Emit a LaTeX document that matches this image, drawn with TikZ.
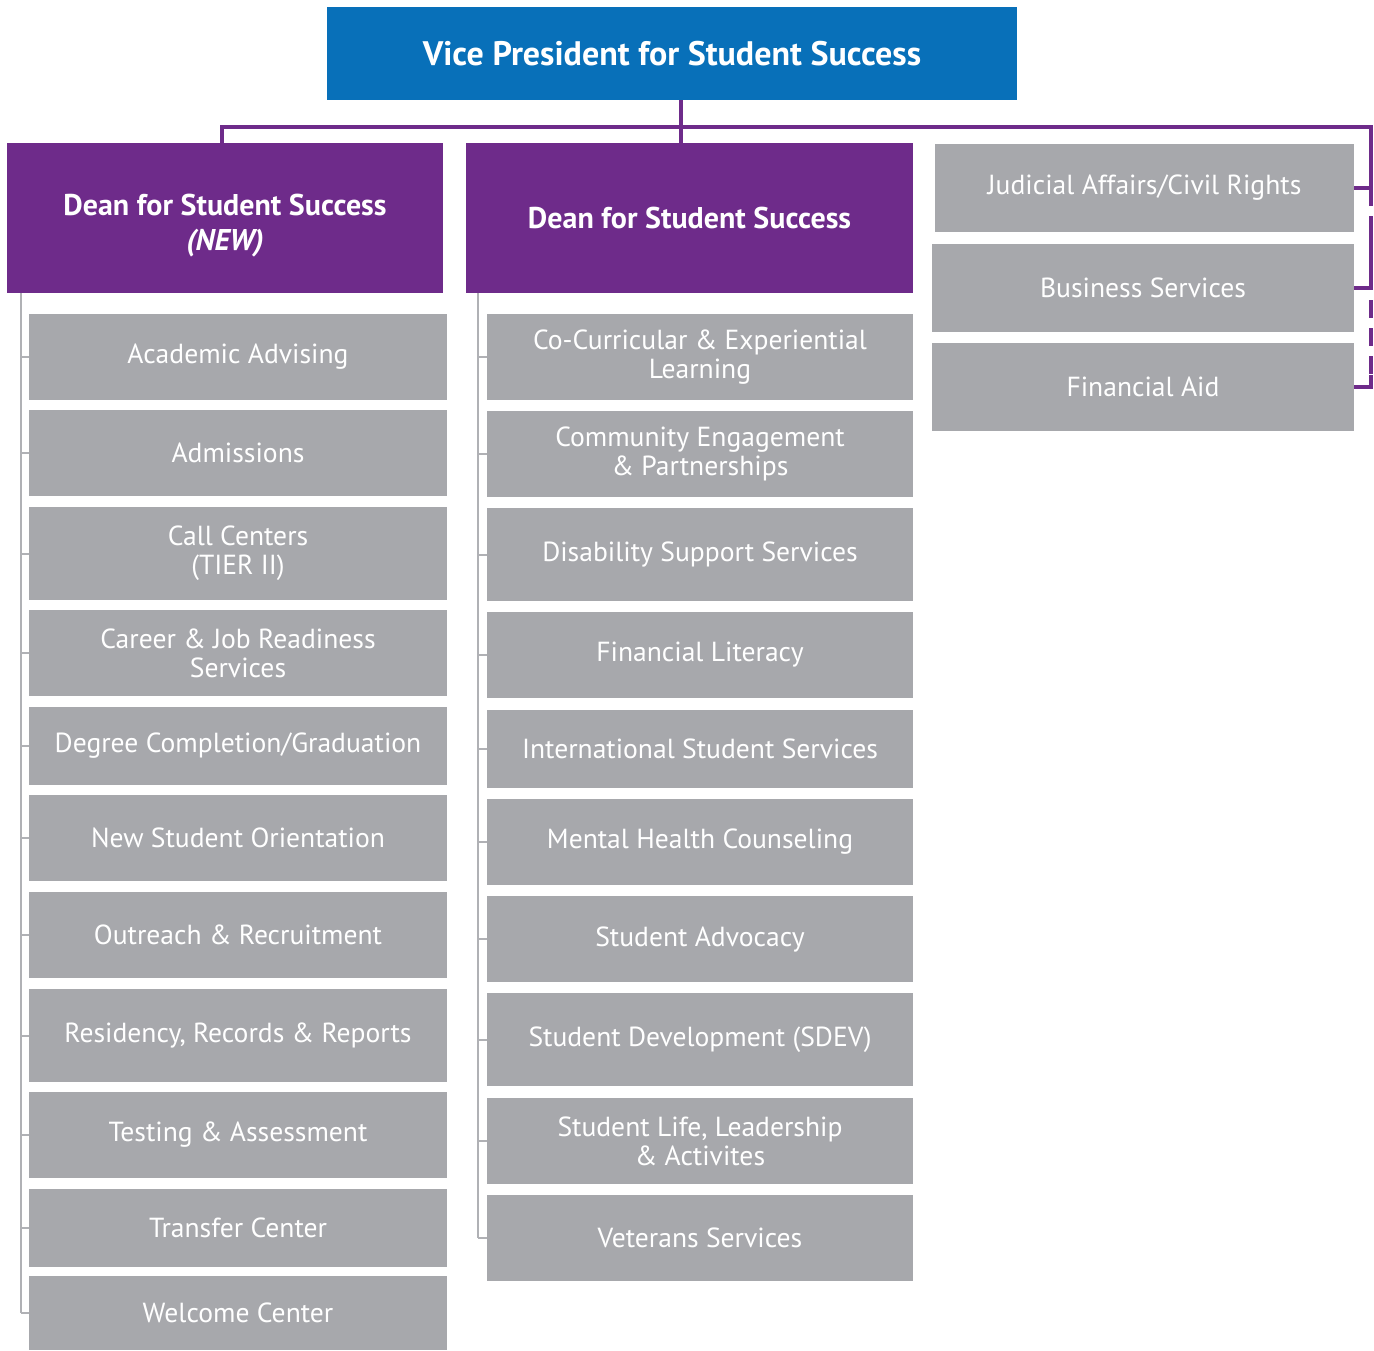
\documentclass[tikz,border=0pt]{standalone}
\usepackage{fontspec}
\setmainfont{PT Sans}
\usetikzlibrary{calc}

\definecolor{vpblue}{HTML}{0870B9}
\definecolor{deanpurple}{HTML}{6E2B8A}
\definecolor{unitgray}{HTML}{A7A8AC}
\definecolor{spinegray}{HTML}{B0B1B5}

\begin{document}
\begin{tikzpicture}[x=0.5pt,y=-0.5pt,
    head/.style={fill=vpblue,text=white,inner sep=0pt,align=center,font=\bfseries\fontsize{17}{20}\selectfont},
    dean/.style={fill=deanpurple,text=white,inner sep=0pt,align=center,font=\bfseries\fontsize{15}{17.5}\selectfont},
    unit/.style={fill=unitgray,text=white,inner sep=0pt,align=center,font=\fontsize{13.8}{14.5}\selectfont},
    link/.style={deanpurple,line width=2.2pt},
    spine/.style={spinegray,line width=1pt}]
    \useasboundingbox (0,0) rectangle (1374,1350);

    % Top of the chart
    \node[head,minimum width=345pt,minimum height=46.5pt] (vp) at (672,53.5) {Vice President for Student Success};

    % Deans
    \node[dean,minimum width=218pt,minimum height=75pt] (dean1) at (225,218) {\rule{0pt}{18pt}Dean for Student Success\\\textit{(NEW)}};
    \node[dean,minimum width=223.5pt,minimum height=75pt] (dean2) at (689.5,218) {Dean for Student Success};

    % Units reporting straight to the VP
    \node[unit,minimum width=209.5pt,minimum height=44pt] (jud) at (1144.5,188) {Judicial Affairs/Civil Rights};
    \node[unit,minimum width=211pt,minimum height=44pt] (bus) at (1143,288) {Business Services};
    \node[unit,minimum width=211pt,minimum height=44pt] (fin) at (1143,387) {Financial Aid};

    % Purple links
    \coordinate (hub) at (681,127);
    \coordinate (lcorner) at (222,127);
    \coordinate (rcorner) at (1371,127);
    \draw[link] (vp.south -| hub) -- (dean2.north -| hub);
    \draw[link] (dean1.north -| lcorner) -- (lcorner) -- (rcorner) |- (jud.east);
    \draw[link,dash pattern=on 9pt off 5pt] (jud.east -| rcorner) -- (fin.east -| rcorner);
    \draw[link] (bus.east) -- (bus.east -| rcorner) -- ++(0,-60);
    \draw[link] (fin.east) -| ($(fin.east -| rcorner)+(0,-12)$);

    % Left column
    \coordinate (lspine) at (21,0);
    \foreach \nm/\ya/\yb/\txt in {aa/314/400/{Academic Advising},
        adm/410/496/{Admissions},
        cc/507/600/{Call Centers\\(TIER II)},
        cjr/610/696/{Career \& Job Readiness\\Services},
        dcg/707/785/{Degree Completion/Graduation},
        nso/795/881/{New Student Orientation},
        orr/892/978/{Outreach \& Recruitment},
        rrr/989/1082/{Residency, Records \& Reports},
        ta/1092/1178/{Testing \& Assessment},
        tc/1189/1267/{Transfer Center},
        wc/1276/1350/{Welcome Center}} {
        \node[unit,minimum width=209pt,minimum height={(\yb-\ya)*0.5pt}] (\nm) at (238,{(\ya+\yb)/2}) {\txt};
        \draw[spine] (\nm.west) -- (\nm.west -| lspine);
    }
    \draw[spine] (dean1.south -| lspine) -- (wc.west -| lspine);

    % Middle column
    \coordinate (mspine) at (478,0);
    \foreach \nm/\ya/\yb/\txt in {ccl/314/400/{Co-Curricular \& Experiential\\Learning},
        cep/411/497/{Community Engagement\\\& Partnerships},
        dss/508/601/{Disability Support Services},
        fl/612/698/{Financial Literacy},
        iss/710/788/{International Student Services},
        mhc/799/885/{Mental Health Counseling},
        sa/896/982/{Student Advocacy},
        sd/993/1086/{Student Development (SDEV)},
        sll/1098/1184/{Student Life, Leadership\\\& Activites},
        vs/1195/1281/{Veterans Services}} {
        \node[unit,minimum width=213pt,minimum height={(\yb-\ya)*0.5pt}] (\nm) at (700,{(\ya+\yb)/2}) {\txt};
        \draw[spine] (\nm.west) -- (\nm.west -| mspine);
    }
    \draw[spine] (dean2.south -| mspine) -- (vs.west -| mspine);
\end{tikzpicture}
\end{document}
